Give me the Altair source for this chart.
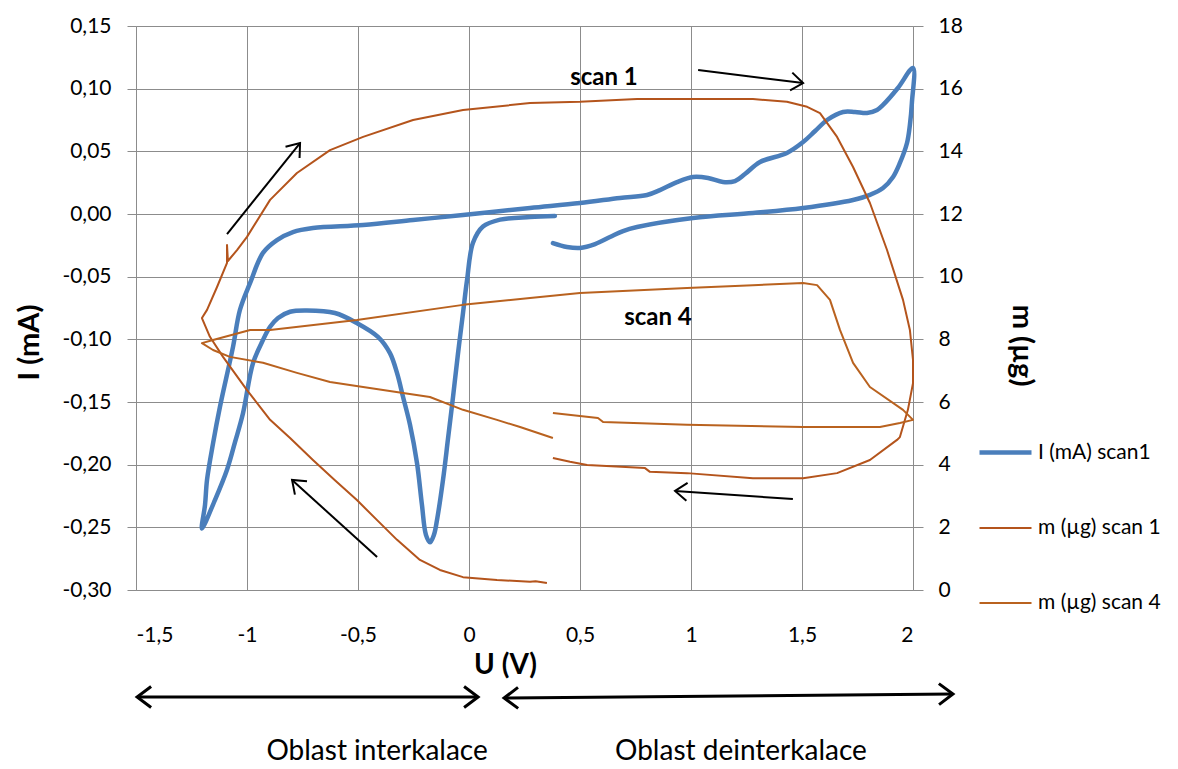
import math
import altair as alt
import pandas as pd

# ---------------- data ----------------
# Current, scan 1 : U (V) / I (mA)
i1_U = [0.387, 0.275, 0.140, 0.063, 0.018, -0.009, -0.027, -0.050, -0.072, -0.095, -0.117,
        -0.144, -0.158, -0.176, -0.194, -0.212, -0.234, -0.266, -0.297, -0.324, -0.356,
        -0.410, -0.505, -0.604, -0.730, -0.806, -0.860, -0.896, -0.932, -0.973, -1.018,
        -1.054, -1.090, -1.144, -1.203,
        -1.189, -1.180, -1.153, -1.122, -1.063, -1.032, -0.986, -0.928, -0.865, -0.793,
        -0.703, -0.477, -0.252, -0.027, 0.275, 0.500, 0.680, 0.802, 0.860, 0.937, 1.009,
        1.077, 1.144, 1.198, 1.243, 1.311, 1.432, 1.505, 1.559, 1.613, 1.685, 1.739,
        1.793, 1.838, 1.865, 1.932, 2.000,
        1.995, 1.986, 1.973, 1.941, 1.910, 1.865, 1.806, 1.730, 1.505, 1.279, 1.009,
        0.757, 0.694, 0.635, 0.568, 0.500, 0.441, 0.378]
i1_I = [-0.0016, -0.0024, -0.0045, -0.010, -0.023, -0.053, -0.079, -0.112, -0.146, -0.180, -0.212,
        -0.244, -0.256, -0.262, -0.256, -0.232, -0.199, -0.168, -0.146, -0.127, -0.111,
        -0.098, -0.087, -0.079, -0.077, -0.078, -0.083, -0.090, -0.102, -0.119, -0.159,
        -0.182, -0.204, -0.228, -0.251,
        -0.232, -0.212, -0.183, -0.154, -0.106, -0.0766, -0.055, -0.031, -0.0208, -0.0144,
        -0.0112, -0.0088, -0.0048, -0.0008, 0.0048, 0.0088, 0.0128, 0.0152, 0.0191, 0.0255, 0.0295,
        0.0287, 0.0255, 0.0263, 0.0319, 0.0415, 0.0487, 0.0574, 0.0662, 0.0750, 0.0814, 0.0814,
        0.0806, 0.0830, 0.0870, 0.1005, 0.1165,
        0.0886, 0.0710, 0.0566, 0.0407, 0.0295, 0.0207, 0.0152, 0.0112, 0.0048, 0.0008, -0.0032,
        -0.0104, -0.0136, -0.0184, -0.0240, -0.0271, -0.0263, -0.0232]

# Mass, scan 1 : U (V) / m (ug)
m1_U = [0.351, 0.300, 0.275, 0.126, -0.027, -0.131, -0.221, -0.324, -0.414, -0.505, -0.604,
        -0.703, -0.806, -0.896, -1.000, -1.108, -1.167, -1.203,
        -1.180, -1.135, -1.090, -1.090, -1.086, -1.045, -1.000, -0.896, -0.775, -0.626,
        -0.477, -0.252, -0.027, 0.275, 0.500, 0.757, 0.982, 1.279, 1.432, 1.523, 1.581,
        1.658, 1.730, 1.806, 1.883, 1.955, 1.986, 2.000, 2.000, 1.977, 1.941, 1.928,
        1.806, 1.658, 1.505, 1.279, 0.982, 0.815, 0.793, 0.532, 0.455, 0.378]
m1_m = [0.22, 0.28, 0.26, 0.32, 0.41, 0.64, 0.96, 1.60, 2.23, 2.87, 3.50,
        4.15, 4.85, 5.43, 6.38, 7.44, 8.08, 8.68,
        8.94, 9.67, 10.44, 11.01, 10.50, 10.85, 11.27, 12.45, 13.31, 14.04,
        14.46, 15.00, 15.32, 15.54, 15.58, 15.67, 15.67, 15.67, 15.58, 15.42, 15.22,
        14.46, 13.50, 12.35, 10.85, 9.26, 8.30, 7.34, 6.60, 5.75, 4.88, 4.79,
        4.15, 3.73, 3.57, 3.57, 3.73, 3.77, 3.89, 3.99, 4.09, 4.21]

# Mass, scan 4 : U (V) / m (ug)
m4_U = [0.378, 0.230, 0.126, -0.027, -0.176, -0.297, -0.477, -0.626, -0.775, -0.928,
        -1.077, -1.153, -1.203,
        -1.153, -0.986, -0.896, -0.505, -0.027, 0.275, 0.500, 0.982, 1.279, 1.505, 1.568,
        1.626, 1.671, 1.730, 1.806, 1.955, 2.000,
        1.941, 1.851, 1.505, 0.982, 0.604, 0.581, 0.378]
m4_m = [4.85, 5.20, 5.43, 5.75, 6.16, 6.29, 6.48, 6.64, 6.93, 7.25,
        7.44, 7.66, 7.88,
        7.98, 8.30, 8.30, 8.62, 9.10, 9.32, 9.48, 9.64, 9.73, 9.80, 9.73,
        9.26, 8.30, 7.25, 6.48, 5.75, 5.43,
        5.33, 5.20, 5.20, 5.27, 5.36, 5.49, 5.65]

series_names = ["I (mA) scan1", "m (µg) scan 1", "m (µg) scan 4"]
x_ticks = [-1.5, -1, -0.5, 0, 0.5, 1, 1.5, 2]
y_left_ticks = [-0.30, -0.25, -0.20, -0.15, -0.10, -0.05, 0.00, 0.05, 0.10, 0.15]
y_right_ticks = [0, 2, 4, 6, 8, 10, 12, 14, 16, 18]

# annotation arrows (U, I) tail -> tip
arrow_x1 = [-1.090, 1.032, -0.414, 1.459]
arrow_y1 = [-0.016, 0.1149, -0.2737, -0.2274]
arrow_x2 = [-0.761, 1.505, -0.797, 0.928]
arrow_y2 = [0.0566, 0.1045, -0.2122, -0.221]
# double-headed arrows below the axis
darrow_x1 = [-1.495, 0.158]
darrow_y1 = [-0.3854, -0.3862]
darrow_x2 = [0.041, 2.180]
darrow_y2 = [-0.3854, -0.3830]

label_text = ["scan 1", "scan 4"]
label_x = [0.608, 0.851]
label_y = [0.1085, -0.083]
region_text = ["Oblast interkalace", "Oblast deinterkalace"]
region_x = [-0.414, 1.225]
region_y = [-0.4293, -0.4293]

# ---------------- build ----------------
FONT = "Lato"
GRID = "#8c8c8c"
COLORS = ["#4A7EBB", "#B4541C", "#B9621F"]
WIDTHS = [4.5, 2.0, 2.0]
W, H = 777, 564
PX_U = W / 3.5
PX_I = H / 0.45

df_i = pd.DataFrame({"U": i1_U, "val": i1_I, "series": series_names[0]})
df_i["idx"] = range(len(df_i))
df_m1 = pd.DataFrame({"U": m1_U, "m": m1_m, "series": series_names[1]})
df_m1["idx"] = range(len(df_m1))
df_m4 = pd.DataFrame({"U": m4_U, "m": m4_m, "series": series_names[2]})
df_m4["idx"] = range(len(df_m4))
df_m = pd.concat([df_m1, df_m4], ignore_index=True)


def ang(x1, y1, x2, y2):
    return math.degrees(math.atan2(-(y2 - y1) * PX_I, (x2 - x1) * PX_U)) % 360


df_arrows = pd.DataFrame({"x1": arrow_x1, "y1": arrow_y1, "x2": arrow_x2, "y2": arrow_y2})
df_heads = pd.DataFrame({
    "hx": arrow_x2, "hy": arrow_y2,
    "angle": [ang(a, b, c, d) for a, b, c, d in zip(arrow_x1, arrow_y1, arrow_x2, arrow_y2)],
})
df_darrows = pd.DataFrame({"x1": darrow_x1, "y1": darrow_y1, "x2": darrow_x2, "y2": darrow_y2})
dh_x, dh_y, dh_a = [], [], []
for a, b, c, d in zip(darrow_x1, darrow_y1, darrow_x2, darrow_y2):
    dh_x += [c, a]
    dh_y += [d, b]
    dh_a += [ang(a, b, c, d), ang(c, d, a, b)]
df_dheads = pd.DataFrame({"hx": dh_x, "hy": dh_y, "angle": dh_a})
df_labels = pd.DataFrame({"tx": label_x, "ty": label_y, "text": label_text})
df_regions = pd.DataFrame({"tx": region_x, "ty": region_y, "text": region_text})

xscale = alt.Scale(domain=[-1.5, 2], nice=False, zero=False)
ylscale = alt.Scale(domain=[-0.3, 0.15], nice=False, zero=False)
yrscale = alt.Scale(domain=[0, 18], nice=False, zero=False)

x_axis = alt.Axis(values=x_ticks, labelExpr="replace(datum.value + '', '.', ',')",
                  grid=True, ticks=False, labelPadding=34, title="U (V)",
                  titleX=369, titleY=75, titleAlign="center", titleBaseline="middle",
                  titleFontSize=28, titleFontWeight="bold")
yl_axis = alt.Axis(values=y_left_ticks,
                   labelExpr="replace(replace(format(datum.value, '.2f'), '.', ','), '\u2212', '-')",
                   grid=True, tickSize=9, labelPadding=16, title="I (mA)",
                   titleAngle=270, titleX=-107, titleY=316, titleAlign="center",
                   titleBaseline="middle", titleFontSize=29, titleFontWeight="bold")
yr_axis = alt.Axis(values=y_right_ticks, orient="right", grid=False, tickSize=10,
                   labelPadding=15, title="m (µg)", titleAngle=90, titleX=108, titleY=319,
                   titleAlign="center", titleBaseline="middle", titleFontSize=29,
                   titleFontWeight="bold")

legend = alt.Legend(title=None, orient="none", legendX=841, legendY=398,
                    symbolType="stroke", symbolSize=2704, rowPadding=38,
                    labelFontSize=21, labelFont=FONT, labelColor="#000",
                    labelOffset=4, labelLimit=300)
color_enc = alt.Color("series:N", scale=alt.Scale(domain=series_names, range=COLORS), legend=legend)
sw_enc = alt.StrokeWidth("series:N",
                         scale=alt.Scale(type="ordinal", domain=series_names, range=WIDTHS),
                         legend=legend)

blue = alt.Chart(df_i).mark_line(strokeCap="round", strokeJoin="round",
                                 interpolate="catmull-rom").encode(
    x=alt.X("U:Q", scale=xscale, axis=x_axis),
    y=alt.Y("val:Q", scale=ylscale, axis=yl_axis),
    color=color_enc, strokeWidth=sw_enc, order=alt.Order("idx:Q"),
)

arrows = alt.Chart(df_arrows).mark_rule(color="black", strokeWidth=2).encode(
    x=alt.X("x1:Q", scale=xscale, axis=x_axis),
    y=alt.Y("y1:Q", scale=ylscale, axis=yl_axis),
    x2="x2:Q", y2="y2:Q",
)
HEAD = "M-1,-0.75L0,0L-1,0.75"
heads = alt.Chart(df_heads).mark_point(shape=HEAD, filled=False, color="black",
                                       strokeWidth=2, size=576, opacity=1).encode(
    x=alt.X("hx:Q", scale=xscale, axis=x_axis),
    y=alt.Y("hy:Q", scale=ylscale, axis=yl_axis),
    angle=alt.Angle("angle:Q", scale=None),
)
darrows = alt.Chart(df_darrows).mark_rule(color="black", strokeWidth=3).encode(
    x=alt.X("x1:Q", scale=xscale, axis=x_axis),
    y=alt.Y("y1:Q", scale=ylscale, axis=yl_axis),
    x2="x2:Q", y2="y2:Q",
)
dheads = alt.Chart(df_dheads).mark_point(shape=HEAD, filled=False, color="black",
                                         strokeWidth=3, size=784, opacity=1).encode(
    x=alt.X("hx:Q", scale=xscale, axis=x_axis),
    y=alt.Y("hy:Q", scale=ylscale, axis=yl_axis),
    angle=alt.Angle("angle:Q", scale=None),
)
labels = alt.Chart(df_labels).mark_text(font=FONT, fontSize=24, fontWeight="bold",
                                        color="black", align="center", baseline="middle").encode(
    x=alt.X("tx:Q", scale=xscale, axis=x_axis),
    y=alt.Y("ty:Q", scale=ylscale, axis=yl_axis),
    text="text:N",
)
regions = alt.Chart(df_regions).mark_text(font=FONT, fontSize=28, color="black",
                                          align="center", baseline="middle").encode(
    x=alt.X("tx:Q", scale=xscale, axis=x_axis),
    y=alt.Y("ty:Q", scale=ylscale, axis=yl_axis),
    text="text:N",
)

left = alt.layer(blue, arrows, heads, darrows, dheads, labels, regions)

brown = alt.Chart(df_m).mark_line(strokeJoin="round").encode(
    x=alt.X("U:Q", scale=xscale, axis=x_axis),
    y=alt.Y("m:Q", scale=yrscale, axis=yr_axis),
    color=color_enc, strokeWidth=sw_enc, order=alt.Order("idx:Q"),
)

chart = alt.layer(left, brown).resolve_scale(y="independent").properties(
    width=W, height=H,
    autosize=alt.AutoSizeParams(type="none"),
    padding={"left": 128, "top": 18, "right": 254, "bottom": 176},
).configure_view(stroke=None).configure_axis(
    labelFont=FONT, titleFont=FONT, labelFontSize=21, labelColor="#000", titleColor="#000",
    gridColor=GRID, domainColor=GRID, tickColor=GRID, gridOpacity=1,
)

chart.save("out.html", embed_options={"renderer": "svg", "actions": False})
